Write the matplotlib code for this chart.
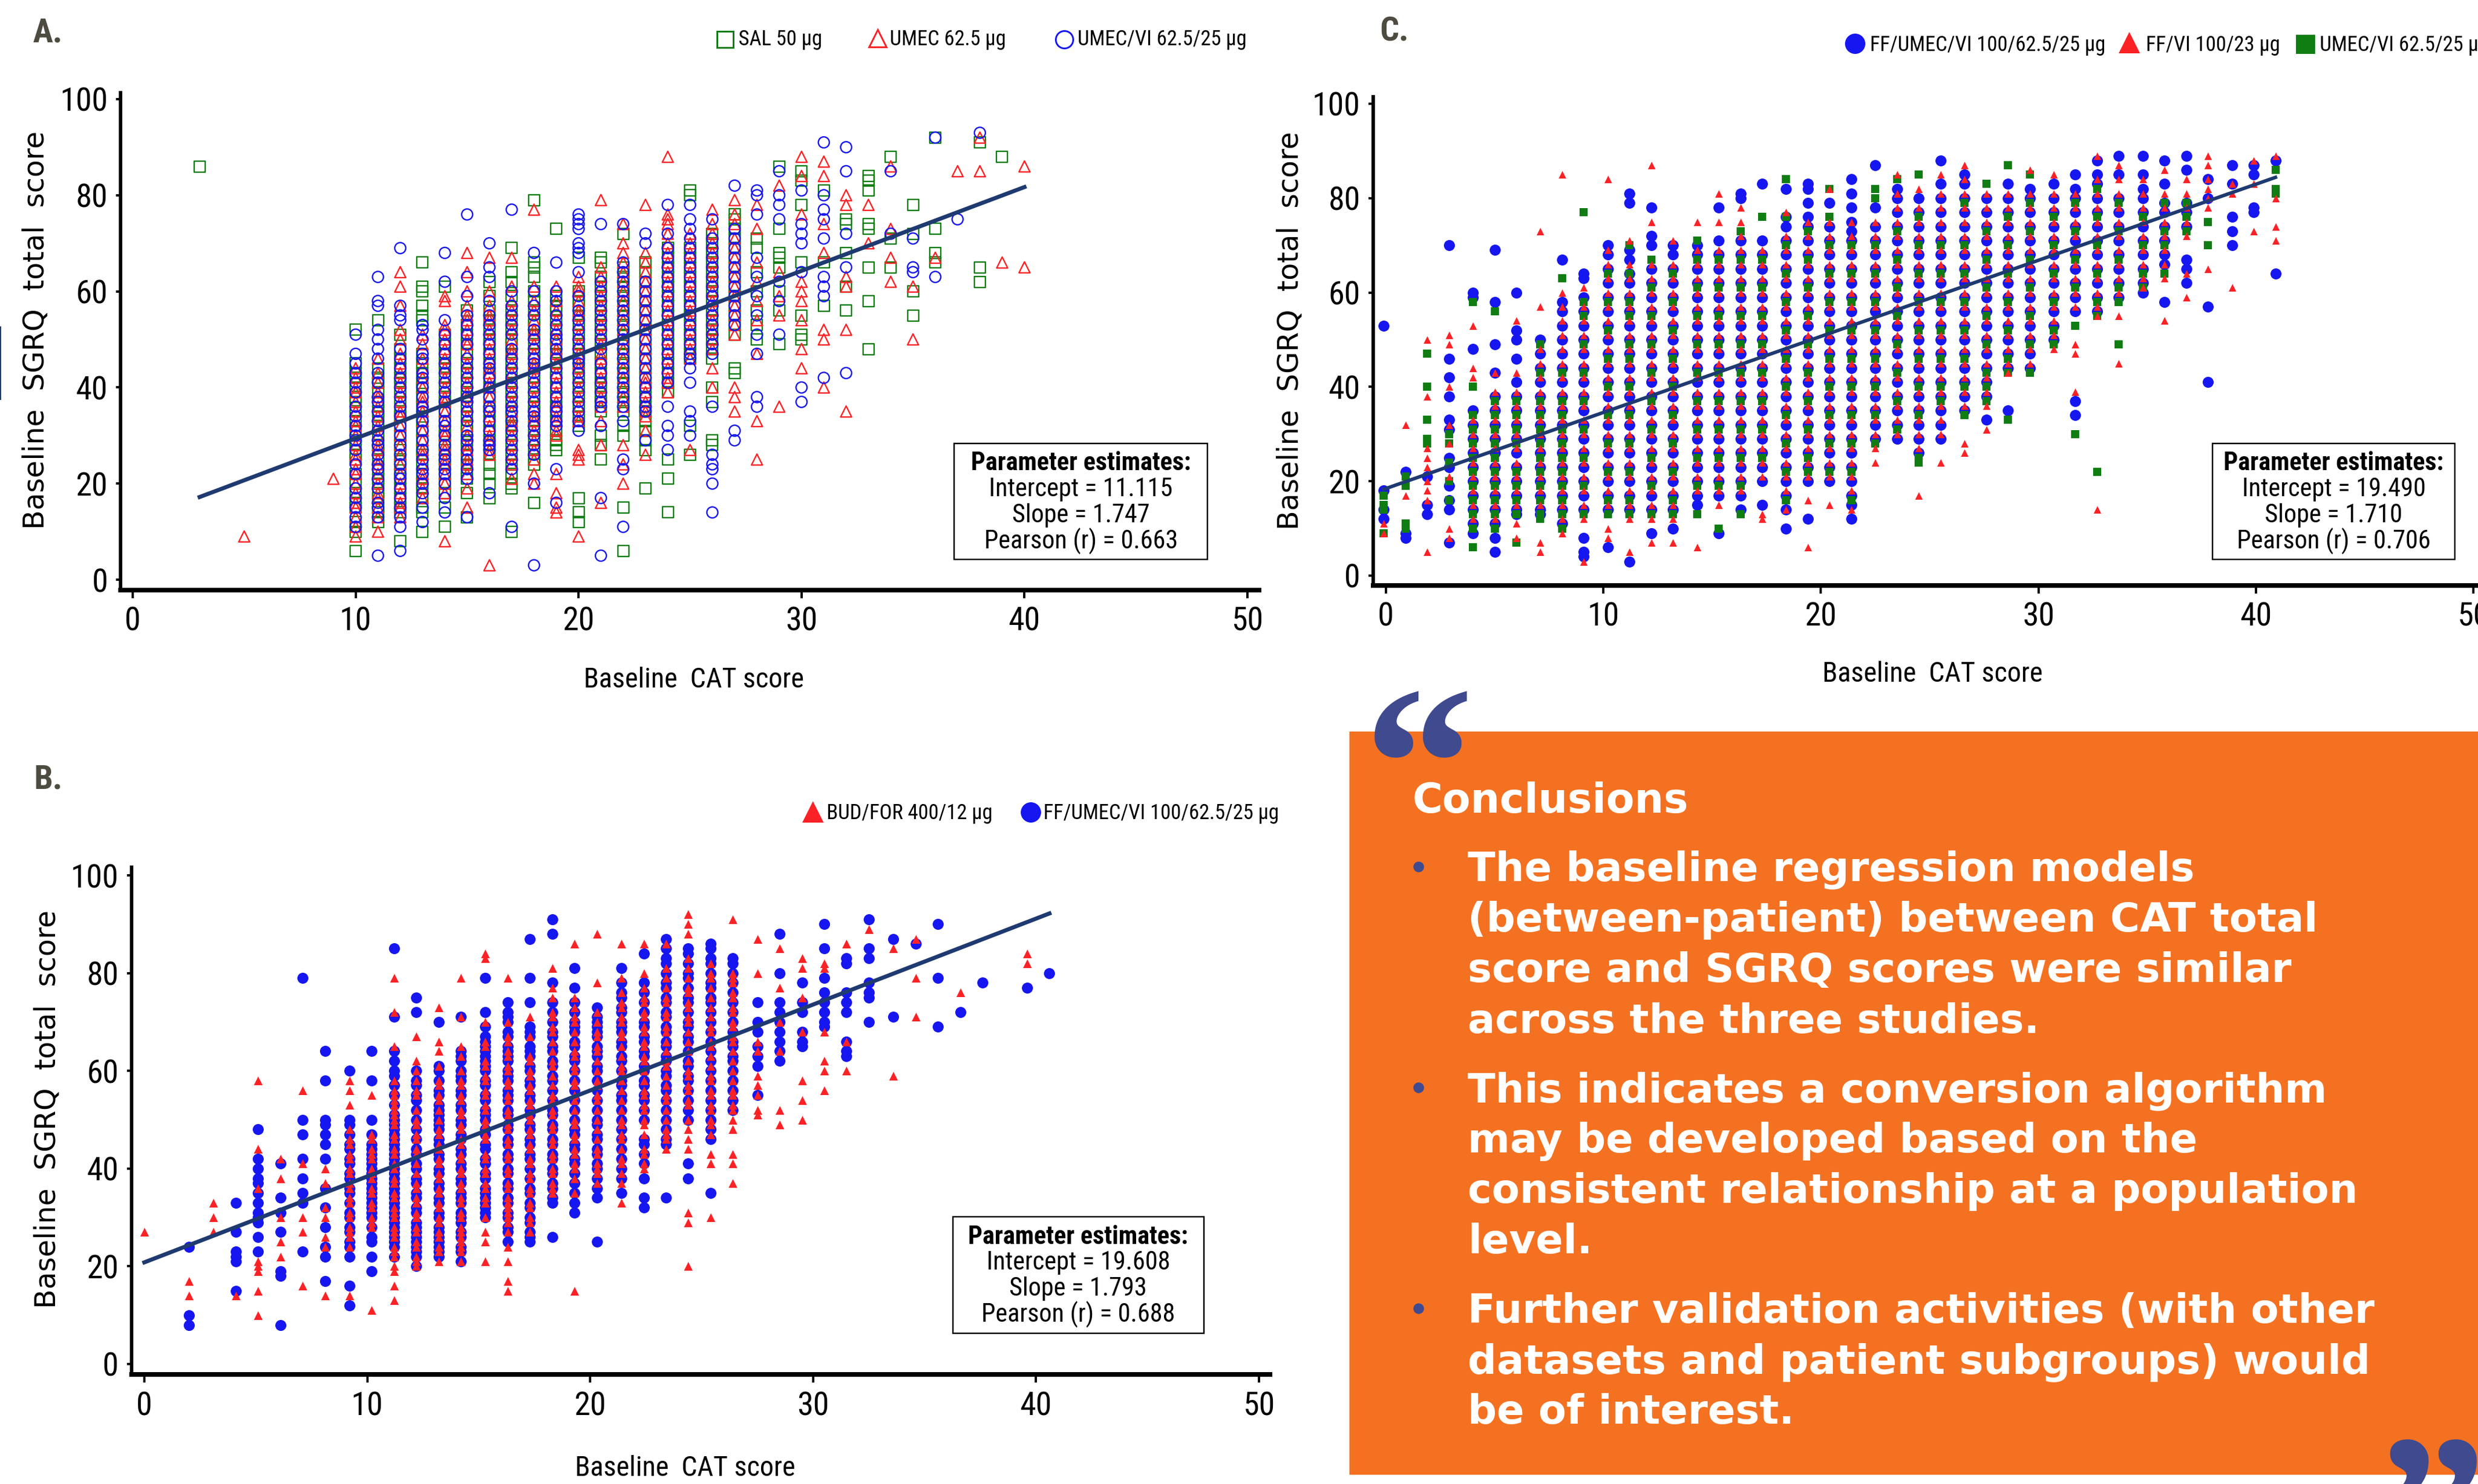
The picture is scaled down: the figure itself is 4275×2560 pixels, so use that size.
import matplotlib
matplotlib.use("Agg")
import matplotlib.pyplot as plt
from matplotlib.lines import Line2D
from matplotlib.patches import Rectangle

W, H = 4275, 2560

GREEN = "#0f7d12"
RED = "#fb2226"
BLUE = "#1616f0"
NAVY = "#1f3a70"
ORANGE = "#f47121"
QUOTE = "#3f4a8f"
LETTER = "#4e4b40"

NARROW = ["Roboto Condensed", "Liberation Sans"]

# panel A, one inner list per CAT score column
a_cols = [3, 5, 9, 10, 11, 12, 13, 14, 15, 16, 17, 18, 19, 20, 21, 22, 23, 24, 25, 26, 27, 28, 29, 30, 31, 32, 33, 34, 35, 36, 37, 38, 39, 40]
a_sal = [
    [86], [], [],
    [52, 45, 42, 38, 35, 31, 28, 25, 22, 18, 15, 12, 10, 6],
    [54, 44, 41, 37, 34, 30, 27, 23, 20, 17, 14, 12],
    [51, 48, 44, 41, 37, 34, 30, 27, 24, 21, 17, 14, 8],
    [66, 61, 60, 57, 55, 54, 47, 43, 40, 36, 33, 29, 26, 22, 19, 15, 14, 10],
    [61, 51, 47, 44, 40, 37, 33, 30, 27, 24, 20, 15, 11],
    [56, 53, 49, 45, 41, 38, 34, 31, 28, 24, 21, 13],
    [62, 59, 56, 52, 49, 45, 42, 38, 35, 31, 28, 24, 22, 20, 17],
    [69, 64, 62, 59, 56, 52, 49, 45, 41, 37, 34, 30, 26, 22, 20, 19, 10],
    [79, 66, 65, 63, 60, 56, 53, 49, 46, 42, 38, 35, 31, 27, 24, 16],
    [73, 59, 56, 52, 49, 45, 42, 38, 35, 31, 28, 27],
    [67, 60, 57, 53, 49, 46, 42, 38, 34, 17, 14, 12],
    [67, 66, 63, 59, 55, 51, 47, 43, 40, 37, 35, 30, 28, 25],
    [72, 65, 61, 57, 53, 49, 45, 41, 37, 35, 32, 30, 15, 6],
    [66, 64, 60, 56, 52, 48, 44, 40, 36, 33, 29, 27, 19],
    [69, 65, 61, 57, 53, 49, 45, 41, 25, 21, 14],
    [81, 80, 69, 65, 61, 57, 53, 49, 46, 32, 26],
    [72, 68, 64, 60, 56, 52, 48, 46, 40, 37, 29, 28],
    [76, 75, 71, 67, 63, 59, 55, 51, 44, 43],
    [71, 69, 64, 60, 56, 53, 50],
    [86, 73, 68, 67, 65, 60, 56, 49],
    [85, 83, 78, 66, 55, 51, 50],
    [81, 66, 57],
    [75, 74, 68, 61, 56],
    [84, 83, 81, 74, 73, 65, 58, 48],
    [88, 71, 65],
    [78, 72, 60, 55],
    [92, 73, 68, 66],
    [],
    [91, 65, 62],
    [88],
    [],
]
a_umec = [
    [], [9], [21],
    [44, 40, 37, 33, 30, 26, 23, 20, 16, 13, 9],
    [46, 43, 39, 36, 32, 28, 25, 22, 18, 15, 10],
    [64, 61, 57, 52, 47, 43, 39, 35, 32, 28, 24, 20, 16, 13],
    [51, 46, 42, 38, 35, 31, 27, 24, 21, 17],
    [59, 58, 53, 50, 46, 42, 38, 35, 31, 28, 25, 22, 18, 8],
    [68, 64, 60, 57, 54, 50, 47, 43, 39, 36, 32, 28, 25, 22, 19, 15],
    [67, 60, 57, 54, 50, 46, 43, 40, 36, 32, 29, 26, 3],
    [67, 61, 58, 54, 50, 47, 43, 39, 35, 32, 28, 24, 21],
    [77, 61, 58, 54, 51, 47, 44, 40, 36, 33, 29, 25, 22, 20],
    [61, 58, 54, 50, 47, 43, 39, 36, 33, 30, 22, 18, 15, 14],
    [63, 61, 58, 55, 51, 47, 44, 40, 36, 33, 27, 26, 25, 9],
    [79, 65, 61, 57, 53, 49, 46, 42, 38, 33, 28, 16],
    [74, 70, 68, 64, 60, 56, 52, 48, 44, 40, 36, 28, 24, 20],
    [78, 68, 64, 60, 56, 52, 48, 44, 41, 37, 34, 31, 26],
    [88, 76, 75, 74, 70, 66, 62, 58, 54, 50, 46, 42, 39],
    [72, 68, 64, 60, 56, 52, 48, 27],
    [77, 74, 70, 66, 62, 58, 54, 50, 44, 40],
    [79, 74, 71, 67, 63, 59, 55, 51, 40, 38, 35],
    [78, 73, 66, 62, 58, 54, 47, 33, 25],
    [82, 64, 59, 55, 36],
    [88, 84, 76, 62, 60, 58, 54, 48, 44],
    [87, 84, 74, 68, 52, 50, 40],
    [80, 78, 63, 61, 52, 35],
    [78, 70],
    [86, 73, 67, 62],
    [61, 50],
    [67],
    [85],
    [92, 85],
    [66],
    [86, 65],
]
a_vi = [
    [], [], [],
    [51, 45, 41, 36, 32, 29, 24, 19, 17, 13, 11],
    [63, 58, 57, 52, 50, 48, 43, 38, 35, 31, 28, 24, 21, 16, 13, 5],
    [69, 57, 55, 54, 46, 42, 38, 34, 30, 26, 22, 19, 15, 11, 6],
    [53, 52, 50, 47, 43, 40, 36, 33, 29, 25, 23, 20, 12],
    [68, 62, 54, 49, 45, 41, 37, 33, 30, 26, 23, 20, 14],
    [76, 63, 59, 55, 51, 46, 42, 38, 35, 30, 27, 23, 13],
    [70, 65, 63, 58, 55, 51, 47, 44, 40, 36, 33, 29, 27, 18],
    [77, 60, 57, 53, 48, 44, 40, 36, 33, 29, 25, 23, 11],
    [68, 60, 57, 52, 48, 45, 41, 37, 34, 30, 26, 20, 3],
    [66, 60, 55, 51, 48, 44, 40, 36, 33, 32, 23, 16],
    [76, 75, 74, 73, 70, 69, 68, 64, 59, 56, 52, 48, 45, 41, 37, 33, 31],
    [74, 62, 58, 54, 50, 45, 41, 39, 36, 32, 17, 5],
    [74, 66, 62, 58, 54, 50, 46, 42, 38, 33, 25, 23, 11],
    [72, 70, 62, 58, 54, 50, 46, 42, 38, 35, 29],
    [78, 72, 67, 63, 59, 55, 51, 47, 43, 36, 32, 30, 27],
    [78, 75, 73, 71, 67, 63, 59, 55, 51, 47, 44, 41, 35, 33, 30],
    [75, 71, 67, 63, 59, 55, 51, 47, 36, 26, 24, 23, 20, 14],
    [82, 73, 69, 65, 61, 57, 53, 31, 29],
    [81, 80, 76, 67, 63, 59, 55, 51, 47, 38, 36],
    [85, 80, 78, 75, 62, 58, 51],
    [81, 74, 72, 70, 64, 40, 37],
    [91, 80, 77, 75, 71, 63, 61, 59, 42],
    [90, 85, 72, 65, 43],
    [],
    [85, 72],
    [71, 65, 64],
    [92, 63],
    [75],
    [93],
    [],
    [],
]
# further points inside the packed part of columns 10 to 27
a_dense_cols = [10, 11, 12, 13, 14, 15, 16, 17, 18, 19, 20, 21, 22, 23, 24, 25, 26, 27]
a_sal_dense = [
    [43, 40, 37, 33, 29, 26, 20, 16],
    [42, 39, 35, 32, 28, 25, 21, 18, 15],
    [46, 42, 39, 35, 32, 28, 25, 22, 19, 15],
    [45, 41, 38, 34, 31, 27, 24, 20, 17],
    [49, 45, 42, 38, 35, 31, 28, 25, 22, 18],
    [51, 47, 43, 39, 36, 32, 29, 26, 22, 18],
    [54, 50, 47, 43, 40, 36, 33, 29, 26],
    [54, 50, 47, 43, 39, 35, 32, 28, 24],
    [58, 54, 51, 47, 44, 40, 36, 33, 29, 25],
    [57, 54, 50, 47, 43, 40, 36, 33, 29],
    [58, 55, 51, 47, 44, 40, 36, 32],
    [61, 57, 53, 49, 45, 41, 38],
    [63, 59, 55, 51, 47, 43, 39],
    [62, 58, 54, 50, 46, 42, 38, 35, 31],
    [67, 63, 59, 55, 51, 47, 43, 39],
    [67, 63, 59, 55, 51, 47],
    [70, 66, 62, 58, 54, 50],
    [73, 69, 65, 61, 57, 53],
]
a_umec_dense = [
    [42, 39, 35, 32, 28, 25, 22, 18, 15, 11],
    [41, 38, 34, 30, 27, 24, 20, 17, 13],
    [50, 45, 41, 37, 34, 30, 26, 22, 18, 15],
    [49, 44, 40, 37, 33, 29, 26, 22, 19],
    [52, 48, 44, 40, 37, 33, 30, 27, 24, 20],
    [55, 52, 49, 45, 41, 38, 34, 30, 27, 24],
    [55, 52, 48, 44, 41, 38, 34, 30, 27],
    [56, 52, 48, 45, 41, 37, 33, 30, 26],
    [56, 52, 49, 45, 42, 38, 34, 31, 27],
    [56, 52, 48, 45, 41, 37, 34, 31],
    [60, 56, 53, 49, 45, 42, 38, 34],
    [63, 59, 55, 51, 47, 44, 40, 36],
    [66, 62, 58, 54, 50, 46, 42, 38],
    [66, 62, 58, 54, 50, 46, 42, 39, 35],
    [72, 68, 64, 60, 56, 52, 48, 44, 41],
    [70, 66, 62, 58, 54, 50, 46],
    [72, 68, 64, 60, 56, 52, 48],
    [76, 69, 65, 61, 57, 53],
]
a_vi_dense = [
    [47, 43, 39, 34, 30, 27, 22, 15],
    [46, 41, 37, 33, 29, 26, 23, 19, 15],
    [48, 44, 40, 36, 32, 28, 24, 21, 17, 13],
    [46, 42, 38, 35, 31, 27, 22, 18, 15],
    [51, 47, 43, 39, 35, 32, 28, 25, 22, 17],
    [53, 49, 44, 40, 37, 33, 29, 25, 21],
    [53, 49, 45, 42, 38, 35, 31, 28],
    [55, 51, 46, 42, 38, 35, 31, 27],
    [55, 50, 46, 43, 39, 35, 32, 28],
    [58, 53, 50, 46, 42, 38, 35],
    [54, 50, 46, 43, 39, 35],
    [60, 56, 52, 48, 43, 37],
    [64, 60, 56, 52, 48, 44, 40, 36],
    [60, 56, 52, 48, 44, 40, 36],
    [69, 65, 61, 57, 53, 49, 45, 41],
    [69, 65, 61, 57, 53, 49, 46],
    [69, 65, 61, 57, 53, 49],
    [71, 67, 63, 59, 55],
]
a_line_x = [3, 40]
a_line_y = [17.2, 81.7]
a_params = ["Parameter estimates:", "Intercept = 11.115", "Slope = 1.747", "Pearson (r) = 0.663"]

# panel B
b_cols = [0, 2.0, 3.1, 4.1, 5.1, 6.1, 7.1, 8.1, 9.2, 10.2, 11.2, 12.2, 13.2, 14.2, 15.3, 16.3, 17.3, 18.3, 19.3, 20.3, 21.4, 22.4, 23.4, 24.4, 25.4, 26.4, 27.5, 28.5, 29.5, 30.5, 31.5, 32.5, 33.6, 34.6, 35.6, 36.6, 37.6, 39.6, 40.6]
b_bud = [
    [27], [17, 14], [33, 30, 27], [14],
    [58, 44, 36, 21, 20, 19, 15, 10],
    [42, 38, 30, 25, 22],
    [56, 41, 30, 27, 16],
    [40, 37, 32, 30, 26, 24, 14],
    [58, 56, 53, 46, 43, 40, 37, 34, 31, 28, 26, 24, 14],
    [55, 47, 44, 42, 39, 36, 33, 30, 28, 11],
    [79, 72, 65, 58, 56, 54, 52, 50, 47, 44, 41, 38, 35, 32, 30, 27, 24, 22, 19, 16, 13],
    [67, 62, 60, 58, 55, 50, 47, 44, 41, 37, 34, 31, 28, 25, 22, 20],
    [73, 66, 64, 61, 58, 55, 52, 48, 45, 42, 39, 36, 33, 30, 27, 24, 21],
    [79, 71, 65, 63, 60, 57, 54, 51, 48, 45, 42, 39, 36, 33, 30, 27, 25, 23, 21],
    [84, 83, 70, 66, 62, 59, 56, 53, 50, 47, 43, 40, 37, 34, 27, 25, 21],
    [79, 70, 67, 64, 61, 58, 55, 52, 49, 46, 43, 40, 37, 34, 32, 30, 27, 24, 21, 17, 15],
    [71, 67, 63, 60, 57, 54, 51, 48, 45, 42, 39, 36, 33, 29, 27],
    [81, 77, 75, 72, 69, 66, 62, 59, 55, 52, 49, 46, 43, 40, 37, 35],
    [86, 75, 73, 70, 66, 63, 60, 57, 54, 50, 47, 44, 41, 38, 35, 15],
    [88, 78, 70, 67, 64, 60, 57, 54, 50, 46, 43, 40, 37],
    [86, 79, 76, 73, 70, 67, 63, 60, 56, 52, 49, 46, 42, 39, 37, 33],
    [86, 80, 77, 74, 71, 68, 65, 62, 58, 55, 52, 49, 43, 40],
    [86, 81, 77, 74, 71, 68, 64, 61, 57, 54, 50, 46, 44],
    [92, 90, 88, 83, 79, 76, 73, 70, 66, 62, 59, 56, 53, 48, 44, 31, 29, 20],
    [82, 79, 75, 71, 68, 65, 61, 58, 55, 52, 49, 43, 41, 30],
    [91, 80, 78, 75, 72, 69, 66, 62, 58, 55, 52, 48, 43, 41, 37],
    [87, 80, 66, 64, 59, 57, 55, 52, 51],
    [85, 77, 70, 64, 52, 49],
    [83, 81, 75, 68, 58, 54, 50],
    [82, 81, 68, 62, 60, 56],
    [86, 66, 60],
    [89],
    [85, 59],
    [87, 79, 71],
    [],
    [76],
    [],
    [84, 82],
    [],
]
b_triple = [
    [], [24, 10, 8], [],
    [33, 27, 23, 22, 21, 15],
    [48, 42, 40, 38, 37, 35, 33, 31, 30, 29, 26, 23],
    [41, 34, 31, 27, 19, 18, 8],
    [79, 50, 47, 42, 38, 35, 33, 23],
    [64, 58, 50, 49, 47, 45, 42, 36, 32, 28, 24, 22, 17],
    [60, 50, 49, 45, 42, 39, 36, 33, 30, 27, 25, 22, 16, 12],
    [64, 58, 50, 45, 43, 41, 39, 37, 35, 33, 31, 26, 25, 22, 19],
    [85, 71, 64, 62, 60, 59, 51, 49, 47, 45, 43, 41, 39, 37, 35, 33, 31, 29, 27, 25, 22],
    [75, 72, 60, 57, 54, 52, 48, 44, 41, 38, 35, 32, 29, 27, 25, 23, 20],
    [70, 61, 60, 56, 53, 51, 49, 46, 43, 40, 37, 34, 31, 28, 26, 24, 22],
    [71, 64, 62, 59, 56, 53, 50, 47, 44, 41, 38, 35, 33, 30, 27, 24, 21],
    [79, 72, 69, 66, 64, 62, 60, 57, 54, 51, 48, 45, 42, 39, 36, 34, 32, 30],
    [74, 72, 71, 68, 65, 63, 60, 58, 55, 52, 49, 46, 43, 40, 37, 34, 31, 28, 25],
    [87, 79, 74, 69, 67, 64, 61, 58, 55, 52, 49, 46, 43, 40, 36, 33, 30, 27, 25],
    [91, 88, 78, 74, 70, 68, 65, 62, 59, 56, 52, 49, 46, 43, 40, 37, 34, 26],
    [81, 77, 74, 70, 68, 66, 63, 60, 56, 52, 48, 45, 42, 39, 33, 31],
    [73, 71, 69, 67, 64, 61, 58, 54, 50, 47, 44, 41, 38, 34, 25],
    [81, 78, 75, 72, 69, 66, 63, 60, 57, 54, 50, 46, 42, 38, 35],
    [84, 78, 74, 70, 67, 64, 61, 58, 55, 52, 46, 43, 38, 34, 32],
    [87, 85, 83, 80, 78, 75, 72, 69, 66, 63, 60, 57, 54, 50, 46, 45, 34],
    [85, 84, 80, 77, 74, 70, 67, 64, 61, 58, 54, 50, 41, 38],
    [86, 85, 83, 80, 77, 74, 70, 66, 62, 58, 54, 50, 46, 35],
    [83, 82, 78, 74, 70, 66, 63, 60, 56, 52],
    [74, 70, 68, 65, 63, 61, 55],
    [88, 80, 74, 72, 70, 68, 66, 64, 62],
    [78, 74, 72, 68, 66, 65],
    [90, 85, 79, 76, 74, 72, 70, 69],
    [83, 82, 76, 74, 72, 66, 64, 63],
    [91, 85, 83, 78, 76, 75, 70],
    [87, 71],
    [86],
    [90, 79, 69],
    [72],
    [78],
    [77],
    [80],
]
# further points inside the packed part of the columns from 9.2 to 26.4
b_dense_cols = [9.2, 10.2, 11.2, 12.2, 13.2, 14.2, 15.3, 16.3, 17.3, 18.3, 19.3, 20.3, 21.4, 22.4, 23.4, 24.4, 25.4, 26.4]
b_triple_dense = [
    [47, 44, 41, 38, 35, 31, 28, 24],
    [47, 44, 42, 40, 38, 36, 34, 32, 30, 28],
    [57, 55, 53, 50, 48, 46, 44, 42, 40, 38, 36, 34, 32, 30, 28, 26, 24],
    [58, 55, 50, 46, 43, 40, 37, 34, 31, 28, 26, 24, 22],
    [58, 55, 52, 50, 48, 45, 42, 39, 36, 33, 30, 27, 25, 23],
    [63, 60, 58, 55, 52, 49, 46, 43, 40, 37, 34, 31, 29, 26, 23],
    [67, 65, 63, 61, 58, 55, 52, 50, 47, 44, 41, 38, 35, 33, 31],
    [70, 67, 64, 62, 59, 56, 54, 51, 48, 45, 42, 39, 36, 33, 30, 27],
    [68, 65, 63, 60, 57, 54, 51, 48, 45, 42, 38, 35, 32, 29, 26],
    [72, 67, 64, 61, 58, 54, 51, 48, 45, 42, 39, 36, 33],
    [72, 69, 65, 62, 58, 54, 50, 47, 44, 41, 37, 35],
    [70, 68, 65, 63, 60, 56, 52, 49, 46, 43, 40, 36],
    [76, 73, 70, 68, 65, 62, 58, 55, 52, 48, 44, 40],
    [76, 72, 69, 66, 63, 60, 57, 54, 50, 45, 41],
    [82, 77, 74, 71, 68, 65, 62, 59, 56, 52, 48],
    [82, 79, 75, 72, 69, 66, 62, 59, 56, 52],
    [82, 78, 75, 72, 68, 64, 60, 56, 52, 48],
    [80, 76, 72, 68, 65, 62, 58, 54],
]
b_bud_dense = [
    [48, 45, 42, 39, 36, 33, 30, 27],
    [46, 43, 40, 38, 35, 32, 29],
    [55, 53, 51, 49, 46, 43, 40, 37, 34, 31, 28, 26, 23, 20],
    [56, 52, 49, 46, 43, 39, 36, 33, 30, 27, 24, 21],
    [57, 54, 50, 47, 44, 41, 38, 35, 32, 29, 26, 23],
    [58, 55, 52, 49, 46, 43, 40, 37, 34, 31, 28, 26, 24],
    [65, 61, 58, 55, 52, 49, 46, 42, 39, 36, 33, 30],
    [66, 63, 60, 57, 54, 51, 48, 45, 42, 39, 36, 33, 31, 29],
    [62, 59, 56, 53, 50, 47, 44, 41, 38, 35, 32, 30],
    [71, 68, 64, 61, 57, 54, 51, 48, 45, 42, 39, 36],
    [71, 68, 64, 61, 58, 55, 52, 49, 46, 43, 40],
    [72, 68, 65, 62, 58, 55, 52, 48, 44, 41, 39],
    [74, 71, 68, 65, 61, 58, 54, 50, 47, 44, 41],
    [75, 72, 69, 66, 63, 60, 56, 53, 50, 47, 44, 41],
    [79, 75, 72, 69, 66, 62, 59, 55, 52, 48, 47],
    [81, 77, 74, 71, 68, 64, 60, 57, 54, 50, 46],
    [80, 77, 73, 69, 66, 63, 59, 56, 53, 50, 47],
    [79, 76, 73, 70, 67, 64, 60, 56, 53, 50],
]
b_line_x = [0, 40.6]
b_line_y = [20.8, 92.2]
b_params = ["Parameter estimates:", "Intercept = 19.608", "Slope = 1.793", "Pearson (r) = 0.688"]

# panel C
c_cols = [-0.1, 0.9, 1.9, 2.9, 4.0, 5.0, 6.0, 7.1, 8.1, 9.1, 10.2, 11.2, 12.2, 13.2, 14.3, 15.3, 16.3, 17.3, 18.4, 19.4, 20.4, 21.4, 22.5, 23.5, 24.5, 25.5, 26.6, 27.6, 28.6, 29.6, 30.7, 31.7, 32.7, 33.7, 34.8, 35.8, 36.8, 37.8, 38.9, 39.9, 40.9]
c_triple = [
    [53, 18, 14, 12],
    [22, 9, 8],
    [21, 15, 13],
    [70, 46, 42, 38, 33, 31, 25, 23, 19, 16, 14, 7],
    [60, 59, 48, 35, 32, 29, 26, 23, 20, 17, 14, 11, 9],
    [69, 58, 49, 43, 38, 35, 32, 29, 26, 23, 20, 17, 14, 11, 8, 5],
    [60, 52, 50, 46, 41, 38, 35, 32, 29, 26, 23, 20, 17, 14, 13],
    [50, 47, 44, 41, 38, 35, 32, 29, 26, 23, 20, 17, 14, 13],
    [67, 58, 56, 53, 50, 47, 44, 41, 38, 35, 32, 29, 26, 23, 20, 17, 14, 11],
    [64, 63, 59, 56, 53, 50, 47, 44, 41, 38, 35, 32, 29, 26, 23, 20, 17, 14, 8, 5, 4],
    [70, 68, 65, 62, 59, 56, 53, 50, 47, 44, 41, 38, 35, 32, 29, 26, 23, 20, 17, 14, 6],
    [81, 79, 69, 67, 64, 62, 59, 56, 53, 50, 47, 44, 41, 38, 35, 32, 29, 26, 23, 20, 17, 14, 3],
    [78, 72, 70, 65, 62, 59, 56, 53, 50, 47, 44, 41, 38, 35, 32, 29, 26, 23, 20, 17, 14, 9],
    [70, 68, 65, 62, 59, 56, 53, 50, 47, 44, 41, 38, 35, 32, 29, 26, 23, 20, 17, 14, 10],
    [70, 68, 65, 62, 59, 56, 53, 50, 47, 44, 41, 38, 35, 32, 29, 26, 23, 20, 17, 15],
    [78, 71, 68, 65, 62, 59, 56, 53, 50, 47, 44, 41, 38, 35, 32, 29, 26, 23, 20, 17, 9],
    [81, 80, 71, 68, 65, 62, 59, 56, 53, 50, 47, 44, 41, 38, 35, 32, 29, 26, 23, 20, 17, 14],
    [83, 71, 68, 65, 62, 59, 56, 53, 50, 47, 44, 41, 38, 35, 32, 29, 26, 23, 20, 15],
    [82, 76, 74, 71, 68, 65, 62, 59, 56, 53, 50, 47, 44, 41, 38, 35, 32, 29, 26, 23, 20, 17, 14, 10],
    [83, 82, 79, 76, 74, 71, 68, 65, 62, 59, 56, 53, 50, 47, 44, 41, 38, 35, 32, 29, 26, 23, 20, 12],
    [79, 74, 71, 68, 65, 62, 59, 56, 53, 50, 47, 44, 41, 38, 35, 32, 29, 26, 23, 20],
    [84, 81, 78, 75, 73, 71, 68, 65, 62, 59, 56, 53, 50, 47, 44, 41, 38, 35, 32, 29, 26, 23, 20, 17, 15, 12],
    [87, 78, 74, 71, 68, 65, 62, 59, 56, 53, 50, 47, 44, 41, 38, 35, 32, 29],
    [82, 80, 77, 74, 71, 68, 65, 62, 59, 56, 53, 50, 47, 44, 41, 38, 35, 32, 29],
    [80, 77, 74, 71, 68, 65, 62, 59, 56, 53, 50, 47, 44, 41, 38, 35, 32, 29, 26],
    [88, 83, 80, 77, 74, 71, 68, 65, 62, 59, 56, 53, 50, 47, 44, 41, 38, 35, 32, 29],
    [85, 83, 80, 77, 74, 71, 68, 65, 62, 59, 56, 53, 50, 47, 44, 41, 38, 35],
    [80, 77, 74, 71, 68, 65, 62, 59, 56, 53, 50, 47, 44, 41, 38, 33],
    [83, 80, 77, 74, 71, 68, 65, 62, 59, 56, 53, 50, 47, 44, 35],
    [82, 80, 77, 74, 71, 68, 65, 62, 59, 56, 53, 50, 47, 44],
    [83, 80, 77, 74, 71, 68, 65, 62, 59, 56, 53, 50],
    [85, 82, 80, 77, 74, 71, 68, 65, 62, 59, 56, 37, 34],
    [88, 85, 83, 80, 77, 74, 71, 68, 65, 62, 59, 56],
    [89, 85, 80, 77, 74, 71, 68, 65, 62, 59],
    [89, 85, 82, 80, 77, 74, 71, 68, 65, 62, 60],
    [88, 83, 79, 77, 74, 71, 68, 66, 58],
    [89, 86, 79, 77, 74, 67, 65, 62],
    [84, 80, 57, 41],
    [87, 83, 76, 73, 70],
    [87, 85, 78, 77],
    [88, 64],
]
c_ffvi = [
    [11, 9],
    [32, 17],
    [50, 38, 27, 25, 23, 20, 18, 16, 5],
    [51, 49, 40, 32, 28, 21, 10, 8],
    [53, 44, 42, 33, 30, 27, 24, 21, 18, 15, 12],
    [43, 39, 36, 33, 30, 27, 24, 21, 18, 15, 12],
    [54, 43, 39, 36, 33, 30, 27, 24, 21, 18, 15, 11, 8],
    [73, 57, 48, 45, 42, 39, 36, 33, 30, 27, 24, 21, 18, 15, 7, 5],
    [85, 60, 57, 54, 51, 48, 45, 42, 39, 36, 33, 30, 27, 24, 21, 18, 15, 12, 9],
    [61, 57, 54, 51, 48, 45, 42, 39, 36, 33, 30, 27, 24, 21, 18, 15, 12, 3],
    [84, 69, 66, 63, 60, 57, 54, 51, 48, 45, 42, 39, 36, 33, 30, 27, 24, 21, 18, 15, 10, 8],
    [71, 66, 63, 60, 57, 54, 51, 48, 45, 42, 39, 36, 33, 30, 27, 24, 21, 18, 15, 12, 5],
    [87, 75, 66, 63, 60, 57, 54, 51, 48, 45, 42, 39, 36, 33, 30, 27, 24, 21, 18, 15, 12, 7],
    [71, 66, 63, 60, 57, 54, 51, 48, 45, 42, 39, 36, 33, 30, 27, 24, 21, 18, 15, 12, 7],
    [75, 69, 66, 63, 60, 57, 54, 51, 48, 45, 42, 39, 36, 33, 30, 27, 24, 21, 18, 6],
    [81, 75, 69, 66, 63, 60, 57, 54, 51, 48, 45, 42, 39, 36, 33, 30, 27, 24, 21, 18, 15],
    [78, 75, 72, 69, 66, 63, 60, 57, 54, 51, 48, 45, 42, 39, 36, 33, 30, 27, 24, 21, 18],
    [69, 66, 63, 60, 57, 54, 51, 48, 45, 42, 39, 36, 33, 30, 27, 24, 21, 13, 12],
    [77, 72, 69, 66, 63, 60, 57, 54, 51, 48, 45, 42, 39, 36, 33, 30, 27, 24, 21, 18, 14],
    [75, 72, 69, 66, 63, 60, 57, 54, 51, 48, 45, 42, 39, 36, 33, 30, 27, 24, 21, 16, 6],
    [82, 75, 72, 69, 66, 63, 60, 57, 54, 51, 48, 45, 42, 39, 36, 33, 30, 27, 24, 21, 15],
    [75, 72, 69, 66, 63, 60, 57, 54, 51, 48, 45, 42, 39, 36, 33, 30, 27, 24, 21, 18, 14],
    [75, 72, 69, 66, 63, 60, 57, 54, 51, 48, 45, 42, 39, 36, 33, 30, 27, 24],
    [85, 81, 78, 75, 72, 69, 66, 63, 60, 57, 54, 51, 48, 45, 42, 39, 36, 33, 30],
    [82, 78, 75, 72, 69, 66, 63, 60, 57, 54, 51, 48, 45, 42, 39, 36, 33, 30, 27, 17],
    [85, 81, 78, 75, 72, 69, 66, 63, 60, 57, 54, 51, 48, 45, 42, 39, 36, 33, 30, 24],
    [87, 84, 81, 78, 75, 72, 69, 66, 63, 60, 57, 54, 51, 48, 45, 42, 39, 36, 28, 26],
    [81, 78, 75, 72, 69, 66, 63, 60, 57, 54, 51, 48, 45, 42, 39, 36, 31],
    [81, 78, 75, 72, 69, 66, 63, 60, 57, 54, 51, 48, 45, 43],
    [86, 81, 78, 75, 72, 69, 66, 63, 60, 57, 54, 51, 48, 45],
    [85, 81, 78, 75, 72, 69, 66, 63, 60, 57, 54, 51, 48],
    [81, 78, 75, 72, 69, 66, 63, 60, 57, 49, 47, 39],
    [89, 84, 81, 78, 75, 72, 69, 66, 63, 60, 57, 55, 14],
    [87, 84, 81, 78, 75, 72, 69, 66, 63, 60, 55, 45],
    [84, 81, 78, 75, 72, 69, 66, 63, 61],
    [86, 81, 78, 75, 72, 69, 66, 63, 54],
    [84, 81, 78, 75, 72, 64, 59],
    [89, 87, 84, 82, 80, 78, 65],
    [83, 81, 61],
    [88, 83, 73],
    [89, 80, 74, 71],
]
c_vi = [
    [17, 15, 14, 9],
    [21, 19, 11, 10],
    [47, 40, 33, 29, 28],
    [30, 28, 24, 20, 16],
    [58, 40, 34, 31, 28, 25, 22, 19, 16, 13, 10, 6],
    [56, 37, 34, 31, 28, 25, 22, 19, 16, 13, 10],
    [37, 34, 31, 28, 22, 19, 16, 13, 7],
    [49, 43, 37, 34, 31, 28, 25, 22, 19, 16, 13, 12],
    [63, 43, 37, 34, 31, 28, 25, 22, 19, 16, 13, 10],
    [77, 58, 55, 49, 43, 37, 31, 25, 19, 13],
    [64, 58, 52, 46, 40, 34, 28, 22, 16, 13],
    [70, 64, 58, 55, 49, 46, 40, 34, 28, 22, 16, 13],
    [67, 61, 55, 49, 43, 37, 31, 25, 19, 13],
    [64, 58, 52, 46, 40, 34, 28, 22, 16, 13],
    [71, 67, 61, 55, 49, 43, 37, 31, 25, 19, 13],
    [67, 61, 55, 49, 43, 37, 31, 25, 19, 10],
    [73, 67, 61, 55, 49, 43, 37, 31, 25, 19, 13],
    [76, 67, 61, 55, 49, 43, 37, 31, 25],
    [84, 76, 70, 64, 58, 52, 46, 40, 34, 28, 22, 16],
    [73, 67, 61, 55, 49, 43, 37, 31, 25, 22],
    [82, 76, 70, 64, 58, 52, 46, 40, 34, 28, 22],
    [70, 64, 58, 52, 46, 40, 34, 28, 22, 16],
    [82, 80, 70, 64, 58, 52, 46, 40, 34, 28],
    [84, 73, 67, 61, 55, 49, 43, 37, 31],
    [85, 76, 70, 64, 58, 52, 46, 40, 34, 25, 24],
    [70, 64, 58, 52, 46, 40, 37],
    [79, 70, 64, 58, 52, 46, 40, 34],
    [83, 73, 67, 61, 55, 49, 43, 40, 37],
    [87, 76, 70, 64, 58, 52, 46, 43, 33],
    [85, 79, 73, 67, 61, 55, 49, 43],
    [76, 70, 64, 58, 52, 49],
    [79, 73, 67, 61, 53, 30],
    [82, 76, 70, 64, 58, 55, 22],
    [79, 73, 67, 61, 58, 49],
    [76, 70, 64, 61],
    [79, 73, 70, 64],
    [79, 76, 73],
    [75, 70],
    [],
    [],
    [86, 82, 81],
]
c_line_x = [-0.1, 40.9]
c_line_y = [18.3, 84.4]
c_params = ["Parameter estimates:", "Intercept = 19.490", "Slope = 1.710", "Pearson (r) = 0.706"]

x_ticks = [0, 10, 20, 30, 40, 50]
y_ticks = [0, 20, 40, 60, 80, 100]

conclusion_title = "Conclusions"
conclusion_lines = [
    "The baseline regression models",
    "(between-patient) between CAT total",
    "score and SGRQ scores were similar",
    "across the three studies.",
    "This indicates a conversion algorithm",
    "may be developed based on the",
    "consistent relationship at a population",
    "level.",
    "Further validation activities (with other",
    "datasets and patient subgroups) would",
    "be of interest.",
]
conclusion_y = [1520, 1607, 1694, 1782, 1901, 1988, 2075, 2162, 2282, 2369, 2456]
bullet_y = [1495, 1876, 2257]


fig = plt.figure(figsize=(W / 100, H / 100), dpi=100)


def fx(x):
    return x / W


def fy(y):
    return 1 - y / H


def pts(px):
    return px * 0.72


def put(x, y, s, size, **kw):
    kw.setdefault("ha", "left")
    kw.setdefault("va", "center")
    kw.setdefault("color", "black")
    fig.text(fx(x), fy(y), s, fontsize=pts(size), **kw)


def flat(cols, rows):
    xs = []
    ys = []
    for c, row in zip(cols, rows):
        for v in row:
            xs.append(c)
            ys.append(v)
    return xs, ys


def make_axes(left, right, top, bottom, x0, x50, y0, y100):
    ax = fig.add_axes([fx(left), fy(bottom), fx(right - left), (bottom - top) / H])
    xs = (x50 - x0) / 50
    ys = (y0 - y100) / 100
    ax.set_xlim((left - x0) / xs, (right - x0) / xs)
    ax.set_ylim((y0 - bottom) / ys, (y0 - top) / ys)
    ax.patch.set_alpha(0)
    for s in ["top", "right"]:
        ax.spines[s].set_visible(False)
    ax.spines["left"].set_linewidth(pts(6))
    ax.spines["bottom"].set_linewidth(pts(8))
    ax.set_xticks(x_ticks)
    ax.set_yticks(y_ticks)
    ax.tick_params(axis="x", length=pts(14), width=pts(4), pad=pts(14), labelsize=pts(56))
    ax.tick_params(axis="y", length=pts(8), width=pts(4), pad=pts(14), labelsize=pts(56))
    for t in ax.get_xticklabels() + ax.get_yticklabels():
        t.set_family(NARROW)
    return ax


def param_box(x0, x1, y0, y1, cx, ys, lines, size=44):
    fig.add_artist(Rectangle((fx(x0), fy(y1)), fx(x1 - x0), (y1 - y0) / H, transform=fig.transFigure,
                             facecolor="white", edgecolor="black", linewidth=pts(2.5), zorder=5))
    for i, (y, s) in enumerate(zip(ys, lines)):
        put(cx, y, s, size, ha="center", family=NARROW, fontweight="bold" if i == 0 else "normal", zorder=6)


def legend_mark(x, y, marker, color, size, filled):
    fig.add_artist(Line2D([fx(x)], [fy(y)], transform=fig.transFigure, marker=marker, linestyle="none",
                          markersize=pts(size), markerfacecolor=color if filled else "none",
                          markeredgecolor=color, markeredgewidth=pts(3)))


# panel A
ax = make_axes(208, 2172, 160, 1018, 229, 2152, 1000, 171)
for rows, extra, m, col in [(a_sal, a_sal_dense, "s", GREEN), (a_umec, a_umec_dense, "^", RED), (a_vi, a_vi_dense, "o", BLUE)]:
    xs, ys = flat(a_cols, rows)
    xs2, ys2 = flat(a_dense_cols, extra)
    ax.scatter(xs + xs2, ys + ys2, marker=m, s=pts(19) ** 2, facecolors="none", edgecolors=col, linewidths=pts(2.4), clip_on=False, zorder=3)
ax.plot(a_line_x, a_line_y, color=NAVY, linewidth=pts(7), zorder=4)

# panel B
ax = make_axes(227, 2191, 1496, 2371, 249, 2172, 2353, 1510)
for rows, extra, m, col, sz in [(b_triple, b_triple_dense, "o", BLUE, 19), (b_bud, b_bud_dense, "^", RED, 15)]:
    xs, ys = flat(b_cols, rows)
    xs2, ys2 = flat(b_dense_cols, extra)
    ax.scatter(xs + xs2, ys + ys2, marker=m, s=pts(sz) ** 2, color=col, linewidths=0, clip_on=False, zorder=3)
ax.plot(b_line_x, b_line_y, color=NAVY, linewidth=pts(7), zorder=4)

# panel C, blue goes underneath so the green and red stay visible
ax = make_axes(2369, 4275, 167, 1010, 2391, 4267, 993, 179)
for rows, m, col, sz in [(c_triple, "o", BLUE, 19), (c_vi, "s", GREEN, 14), (c_ffvi, "^", RED, 13)]:
    xs, ys = flat(c_cols, rows)
    ax.scatter(xs, ys, marker=m, s=pts(sz) ** 2, color=col, linewidths=0, clip_on=False, zorder=3)
ax.plot(c_line_x, c_line_y, color=NAVY, linewidth=pts(6), zorder=4)

# axis titles
put(1197, 1173, "Baseline  CAT score", 48, ha="center", family=NARROW)
put(3334, 1163, "Baseline  CAT score", 48, ha="center", family=NARROW)
put(1182, 2533, "Baseline  CAT score", 48, ha="center", family=NARROW)
put(62, 569, "Baseline  SGRQ  total  score", 49, ha="center", rotation=90, family="DejaVu Sans")
put(2226, 570, "Baseline  SGRQ  total  score", 49, ha="center", rotation=90, family="DejaVu Sans")
put(82, 1913, "Baseline  SGRQ  total  score", 49, ha="center", rotation=90, family="DejaVu Sans")

# panel letters
put(56, 57, "A.", 58, color=LETTER, fontweight="bold", family=NARROW)
put(59, 1345, "B.", 58, color=LETTER, fontweight="bold", family=NARROW)
put(2380, 55, "C.", 58, color=LETTER, fontweight="bold", family=NARROW)

# legends
legend_mark(1251, 68, "s", GREEN, 28, False)
put(1274, 68, "SAL 50 µg", 36, family=NARROW)
legend_mark(1514, 66, "^", RED, 30, False)
put(1535, 68, "UMEC 62.5 µg", 36, family=NARROW)
legend_mark(1836, 68, "o", BLUE, 30, False)
put(1859, 68, "UMEC/VI 62.5/25 µg", 36, family=NARROW)

legend_mark(1402, 1401, "^", RED, 32, True)
put(1426, 1403, "BUD/FOR 400/12 µg", 36, family=NARROW)
legend_mark(1778, 1401, "o", BLUE, 32, True)
put(1800, 1403, "FF/UMEC/VI 100/62.5/25 µg", 36, family=NARROW)

legend_mark(3200, 75, "o", BLUE, 32, True)
put(3226, 78, "FF/UMEC/VI 100/62.5/25 µg", 36, family=NARROW)
legend_mark(3673, 74, "^", RED, 32, True)
put(3702, 78, "FF/VI 100/23 µg", 36, family=NARROW)
legend_mark(3977, 76, "s", GREEN, 30, True)
put(4002, 78, "UMEC/VI 62.5/25 µg", 36, family=NARROW)

# parameter boxes
param_box(1646, 2083, 765, 965, 1865, [799, 844, 889, 934], a_params)
param_box(1644, 2077, 2099, 2300, 1860, [2134, 2178, 2223, 2268], b_params)
param_box(3817, 4235, 765, 965, 4026, [799, 844, 889, 934], c_params)

# conclusions panel
fig.add_artist(Rectangle((fx(2328), fy(2544)), fx(4275 - 2328), (2544 - 1262) / H, transform=fig.transFigure,
                         facecolor=ORANGE, edgecolor="none", zorder=1))
fig.text(fx(2436), fy(1402), conclusion_title, fontsize=pts(71), color="white", fontweight="bold",
         family="DejaVu Sans", ha="left", va="baseline", zorder=6)
for s, y in zip(conclusion_lines, conclusion_y):
    fig.text(fx(2532), fy(y), s, fontsize=pts(70), color="white", fontweight="bold",
             family="DejaVu Sans", ha="left", va="baseline", zorder=6)
for y in bullet_y:
    legend_dot = Line2D([fx(2447)], [fy(y)], transform=fig.transFigure, marker="o", linestyle="none",
                        markersize=pts(17), markerfacecolor=QUOTE, markeredgecolor=QUOTE, zorder=6)
    fig.add_artist(legend_dot)

fig.text(fx(2353), fy(1445), "\u201c", fontsize=pts(380), color=QUOTE, fontweight="bold",
         family="Liberation Serif", ha="left", va="baseline", zorder=6)
fig.text(fx(4100), fy(2735), "\u201d", fontsize=pts(380), color=QUOTE, fontweight="bold",
         family="Liberation Serif", ha="left", va="baseline", zorder=6)

# thin blue edge mark left of panel A
fig.add_artist(Line2D([fx(1), fx(1)], [fy(564), fy(689)], transform=fig.transFigure, color=NAVY, linewidth=pts(2)))

fig.savefig("out.png", dpi=100, facecolor="white")
